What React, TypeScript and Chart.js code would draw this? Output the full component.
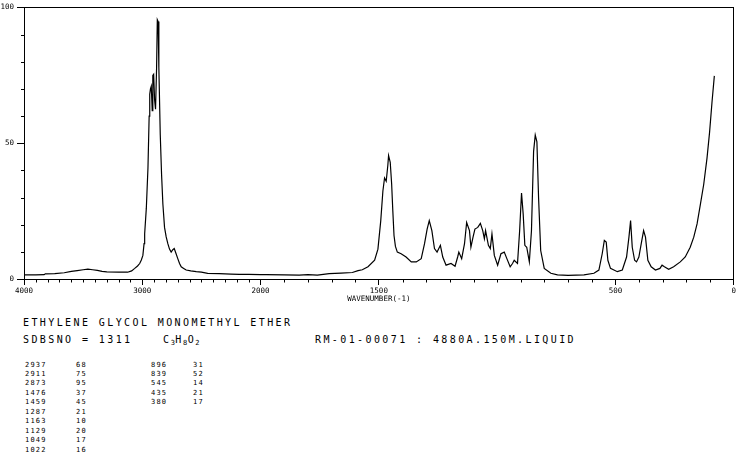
import React, { useEffect, useRef } from 'react';
import { Chart, registerables } from 'chart.js';

Chart.register(...registerables);

// Raman spectrum: wavenumber (cm-1) and relative intensity
const WAVENUMBERS = [
  3992, 3900, 3830, 3820, 3740, 3660, 3600, 3550, 3500, 3460, 3420, 3380, 3340, 3300, 3200,
  3124, 3090, 3064, 3040, 3022, 3008, 2995, 2985, 2980, 2966, 2952, 2942, 2937, 2931, 2924,
  2916, 2911, 2904, 2896, 2888, 2879, 2873, 2866, 2860, 2848, 2837, 2826, 2812, 2798, 2784,
  2770, 2756, 2742, 2730, 2715, 2700, 2685, 2671, 2650, 2629, 2590, 2544, 2500, 2447, 2350,
  2250, 2180, 2100, 2000, 1977, 1900, 1837, 1800, 1760, 1710, 1660, 1612, 1588, 1570, 1546,
  1518, 1504, 1492, 1483, 1476, 1469, 1462, 1459, 1452, 1446, 1441, 1436, 1430, 1422, 1406,
  1385, 1363, 1342, 1321, 1307, 1296, 1287, 1276, 1265, 1254, 1240, 1230, 1216, 1195, 1178,
  1167, 1162, 1150, 1138, 1129, 1117, 1111, 1102, 1094, 1082, 1071, 1061, 1054, 1049, 1037,
  1029, 1022, 1012, 998, 984, 970, 959, 945, 935, 928, 914, 905, 897, 890, 883,
  875, 864, 855, 846, 839, 832, 825, 816, 801, 773, 745, 700, 633, 591, 570,
  556, 547, 539, 532, 521, 492, 471, 453, 443, 436, 429, 419, 411, 401, 391,
  381, 373, 363, 349, 331, 312, 303, 293, 275, 254, 226, 205, 184, 169, 155,
  141, 127, 113, 102, 92, 82,
];
const INTENSITY = [
  1.5, 1.5, 1.6, 1.9, 2.0, 2.3, 2.8, 3.1, 3.4, 3.6, 3.4, 3.2, 2.8, 2.6, 2.5,
  2.5, 3.0, 3.9, 4.8, 5.7, 7.0, 8.7, 13, 16.7, 26, 41, 60, 68, 70, 71,
  62, 75, 75.4, 66, 62.5, 78, 95.5, 94.8, 78, 53, 38.5, 27.6, 19, 15.5, 13,
  11, 9.9, 10.8, 11.2, 9.4, 7.5, 5.7, 4.5, 3.9, 3.3, 3.0, 2.7, 2.5, 2.1, 2.0,
  1.8, 1.7, 1.7, 1.6, 1.6, 1.5, 1.4, 1.6, 1.4, 2.0, 2.2, 2.4, 3.1, 3.4, 4.5,
  6.9, 11, 21.5, 32.4, 37.2, 36, 42, 45.5, 43, 35, 25, 16, 12, 9.9, 9.3,
  8.1, 6.3, 6.3, 7.5, 13, 18.4, 21.5, 17.8, 11.2, 9.9, 12.4, 8.1, 5.1, 5.7, 4.7,
  8.1, 9.9, 7.5, 13, 20.8, 17.8, 11.7, 15.4, 18.4, 19, 20.5, 17.8, 14.8, 17.8, 12.4,
  11.2, 16.6, 8.7, 5.1, 9.3, 9.9, 7.5, 4.5, 5.7, 6.9, 5.7, 17.8, 31.7, 23.9, 12.4,
  11.7, 6.3, 17.8, 47, 53, 50.5, 30, 10.5, 3.9, 2.1, 1.5, 1.3, 1.5, 2.1, 3.3,
  9.3, 14.2, 13.6, 6.9, 3.9, 2.7, 3.3, 8.1, 15.4, 21.5, 11.7, 6.9, 6.3, 8.1, 13,
  17.8, 15.4, 6.9, 4.5, 3.3, 3.9, 5.1, 4.5, 3.6, 4.5, 6.3, 8.1, 11.7, 15.4, 20.3,
  27.5, 34.8, 44.5, 54.2, 65, 74.8,
];

// Peak table
const PEAK_WN = [2937, 2911, 2873, 1476, 1459, 1287, 1163, 1129, 1049, 1022, 896, 839, 545, 435, 380];
const PEAK_INT = [68, 75, 95, 37, 45, 21, 10, 20, 17, 16, 31, 52, 14, 21, 17];

// Axis ticks
const X_LABELED = [4000, 3000, 2000, 1500, 500, 0];
const X_TICK_STEP = 100;
const Y_LABELED = [0, 50, 100];
const Y_TICK_STEP = 10;

const COMPOUND = 'ETHYLENE GLYCOL MONOMETHYL ETHER';
const SDBS_LINE = 'SDBSNO = 1311';
const FORMULA: [string, string][] = [['C', '3'], ['H', '8'], ['O', '2']];
const SAMPLE_LINE = 'RM-01-00071 : 4880A.150M.LIQUID';
const X_TITLE = 'WAVENUMBER(-1)';

const MONO = '"DejaVu Sans Mono", monospace';

// 4000-2000 region is drawn at half scale
const toPos = (w: number) => (w >= 2000 ? 2000 + (w - 2000) / 2 : w);
const toWn = (p: number) => (p >= 2000 ? 2000 + (p - 2000) * 2 : p);

export default function App() {
  const ref = useRef<HTMLCanvasElement>(null);

  useEffect(() => {
    const canvas = ref.current;
    if (!canvas) return;
    const data = WAVENUMBERS.map((w, i) => ({ x: toPos(w), y: INTENSITY[i] }));
    const minorX: number[] = [];
    for (let w = 4000; w >= 0; w -= X_TICK_STEP) if (!X_LABELED.includes(w)) minorX.push(w);
    const minorY: number[] = [];
    for (let v = 0; v <= 100; v += Y_TICK_STEP) if (!Y_LABELED.includes(v)) minorY.push(v);
    const tickFont = { family: MONO, size: 7.5 };

    const minorTicks = {
      id: 'minorTicks',
      afterDraw(chart: any) {
        const { ctx, chartArea, scales } = chart;
        ctx.save();
        ctx.strokeStyle = '#000';
        ctx.lineWidth = 1;
        ctx.beginPath();
        const yb = Math.round(chartArea.bottom);
        for (const w of minorX) {
          const px = Math.round(scales.x.getPixelForValue(toPos(w))) + 0.5;
          ctx.moveTo(px, yb);
          ctx.lineTo(px, yb + 3.5);
        }
        const xl = Math.round(chartArea.left);
        for (const v of minorY) {
          const py = Math.round(scales.y.getPixelForValue(v)) + 0.5;
          ctx.moveTo(xl - 3, py);
          ctx.lineTo(xl, py);
        }
        ctx.stroke();
        ctx.restore();
      },
    };

    const chart = new Chart(canvas, {
      type: 'line',
      data: {
        datasets: [
          {
            data,
            borderColor: '#000',
            borderWidth: 1.2,
            pointRadius: 0,
            tension: 0,
            fill: false,
            xAxisID: 'x',
            yAxisID: 'y',
          },
        ],
      },
      options: {
        responsive: false,
        animation: false,
        devicePixelRatio: 1,
        layout: { padding: { left: 0, right: 1, top: 4, bottom: 0 } },
        plugins: { legend: { display: false }, tooltip: { enabled: false } },
        scales: {
          x: {
            type: 'linear',
            position: 'bottom',
            reverse: true,
            min: 0,
            max: 3000,
            afterBuildTicks: (s: any) => {
              s.ticks = X_LABELED.map((w) => ({ value: toPos(w) }));
            },
            afterFit: (s: any) => {
              s.height = 31;
            },
            ticks: {
              autoSkip: false,
              maxRotation: 0,
              padding: 2,
              color: '#000',
              font: tickFont,
              callback: (v: any) => String(Math.round(toWn(v))),
            },
            grid: {
              drawOnChartArea: false,
              tickLength: 6,
              tickColor: '#000',
              tickWidth: 1,
            },
            border: { color: '#000', width: 1 },
            title: {
              display: true,
              text: X_TITLE,
              color: '#000',
              font: tickFont,
              padding: { top: 0, bottom: 6 },
            },
          },
          y: {
            type: 'linear',
            position: 'left',
            min: 0,
            max: 100,
            afterBuildTicks: (s: any) => {
              s.ticks = Y_LABELED.map((v) => ({ value: v }));
            },
            afterFit: (s: any) => {
              s.width = 24;
            },
            ticks: {
              autoSkip: false,
              padding: 3,
              color: '#000',
              font: tickFont,
            },
            grid: {
              drawOnChartArea: false,
              tickLength: 7,
              tickColor: '#000',
              tickWidth: 1,
            },
            border: { color: '#000', width: 1 },
          },
          xTop: {
            type: 'linear',
            position: 'top',
            reverse: true,
            min: 0,
            max: 3000,
            afterFit: (s: any) => {
              s.height = 0;
            },
            ticks: { display: false },
            grid: { drawOnChartArea: false, drawTicks: false },
            border: { color: '#000', width: 1 },
          },
          yRight: {
            type: 'linear',
            position: 'right',
            min: 0,
            max: 100,
            afterFit: (s: any) => {
              s.width = 0;
            },
            ticks: { display: false },
            grid: { drawOnChartArea: false, drawTicks: false },
            border: { color: '#000', width: 1 },
          },
        },
      } as any,
      plugins: [minorTicks],
    });
    return () => chart.destroy();
  }, []);

  const capStyle: React.CSSProperties = {
    position: 'absolute',
    fontFamily: MONO,
    fontSize: 10,
    lineHeight: '10px',
    letterSpacing: '2.4px',
    whiteSpace: 'pre',
    color: '#000',
  };
  const tblStyle: React.CSSProperties = {
    position: 'absolute',
    fontFamily: MONO,
    fontSize: 7,
    lineHeight: '9.45px',
    letterSpacing: '1.2px',
    whiteSpace: 'pre',
    color: '#000',
  };
  const left = PEAK_WN.slice(0, 10);
  const right = PEAK_WN.slice(10);
  const rowTop = (i: number) => 360.5 + i * 9.45;

  return (
    <div style={{ position: 'absolute', left: 0, top: 0, width: 738, height: 457, background: '#fff', overflow: 'hidden' }}>
      <canvas ref={ref} width={738} height={310} style={{ position: 'absolute', left: 0, top: 0 }} />
      <div style={{ ...capStyle, left: 23, top: 318 }}>{COMPOUND}</div>
      <div style={{ ...capStyle, left: 23, top: 335 }}>{SDBS_LINE}</div>
      <div style={{ ...capStyle, left: 163, top: 335, letterSpacing: '1.6px' }}>
        {FORMULA.map(([el, n]) => (
          <span key={el}>
            {el}
            <span style={{ fontSize: 7, position: 'relative', top: 2, letterSpacing: '0.5px' }}>{n}</span>
          </span>
        ))}
      </div>
      <div style={{ ...capStyle, left: 315, top: 335 }}>{SAMPLE_LINE}</div>
      {left.map((w, i) => (
        <React.Fragment key={'l' + w}>
          <div style={{ ...tblStyle, left: 25, top: rowTop(i) }}>{String(w)}</div>
          <div style={{ ...tblStyle, left: 76, top: rowTop(i) }}>{String(PEAK_INT[i])}</div>
        </React.Fragment>
      ))}
      {right.map((w, i) => (
        <React.Fragment key={'r' + w}>
          <div style={{ ...tblStyle, left: 151, top: rowTop(i) }}>{String(w)}</div>
          <div style={{ ...tblStyle, left: 193, top: rowTop(i) }}>{String(PEAK_INT[10 + i])}</div>
        </React.Fragment>
      ))}
    </div>
  );
}
